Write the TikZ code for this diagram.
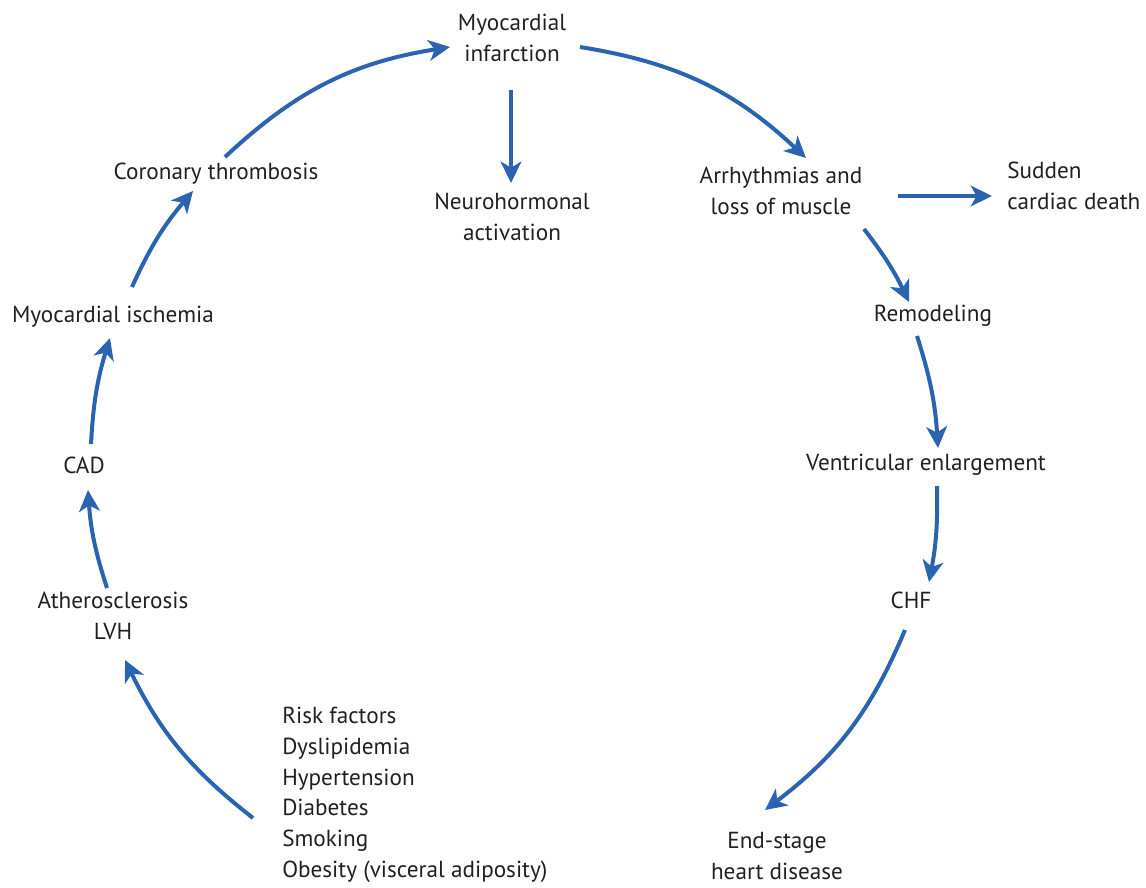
\documentclass[tikz,border=0pt]{standalone}
\usepackage{fontspec}
\setmainfont{PT Sans}
\usetikzlibrary{arrows.meta}
\definecolor{flowblue}{RGB}{42,99,175}
\definecolor{ink}{RGB}{35,31,32}
\tikzset{
  lbl/.style={inner sep=0pt, align=center, text=ink, font=\fontsize{17.4pt}{23pt}\selectfont},
  flow/.style={draw=flowblue, line width=3pt, -{Stealth[length=16pt,width=15.5pt,inset=4.5pt]}}
}
\begin{document}
\begin{tikzpicture}[x=0.75pt,y=-0.75pt]
\useasboundingbox (0,0) rectangle (1146,888);
% nodes
\node[lbl] (mi) at (512,38) {Myocardial\\infarction};
\node[lbl] (neuro) at (512,217) {Neurohormonal\\activation};
\node[lbl] (arr) at (781,191) {Arrhythmias and\\loss of muscle};
\node[lbl, align=left, anchor=west] (scd) at (1007,186) {Sudden\\cardiac death};
\node[lbl] (remod) at (933,316) {Remodeling};
\node[lbl] (vent) at (926,465) {Ventricular enlargement};
\node[lbl] (chf) at (911,600) {CHF};
\node[lbl] (esd) at (777,856) {End-stage\\heart disease};
\node[lbl, align=left, anchor=north west] (risk) at (282,707) {Risk factors\\Dyslipidemia\\Hypertension\\Diabetes\\Smoking\\Obesity (visceral adiposity)};
\node[lbl] (ath) at (113,616) {Atherosclerosis\\LVH};
\node[lbl] (cad) at (84,465) {CAD};
\node[lbl] (isch) at (113,317) {Myocardial ischemia};
\node[lbl] (thromb) at (216,174) {Coronary thrombosis};
% connector end points
\coordinate (r1) at (253,818); \coordinate (a1) at (125,660);
\coordinate (r2) at (107,588); \coordinate (a2) at (88,490);
\coordinate (r3) at (91,444);  \coordinate (a3) at (110,338);
\coordinate (r4) at (132,287); \coordinate (a4) at (193,191);
\coordinate (r5) at (225,157); \coordinate (a5) at (450,47);
\coordinate (r6) at (580,47);  \coordinate (a6) at (806,158);
\coordinate (r7) at (511,90);  \coordinate (a7) at (511,183);
\coordinate (r8) at (898,196); \coordinate (a8) at (992,196);
\coordinate (r9) at (864,229); \coordinate (a9) at (909,302);
\coordinate (r10) at (917,336); \coordinate (a10) at (938,448);
\coordinate (r11) at (937,486); \coordinate (a11) at (929,582);
\coordinate (r12) at (905,630); \coordinate (a12) at (765,810);
% connectors
\draw[flow] (r1) to[bend left=13] (a1);
\draw[flow] (r2) to[bend left=7] (a2);
\draw[flow] (r3) to[bend left=7] (a3);
\draw[flow] (r4) to[bend left=8] (a4);
\draw[flow] (r5) to[bend left=17] (a5);
\draw[flow] (r6) to[bend left=17] (a6);
\draw[flow] (r7) -- (a7);
\draw[flow] (r8) -- (a8);
\draw[flow] (r9) to[bend left=6] (a9);
\draw[flow] (r10) to[bend left=7] (a10);
\draw[flow] (r11) to[bend left=6] (a11);
\draw[flow] (r12) to[bend left=15] (a12);
\end{tikzpicture}
\end{document}
